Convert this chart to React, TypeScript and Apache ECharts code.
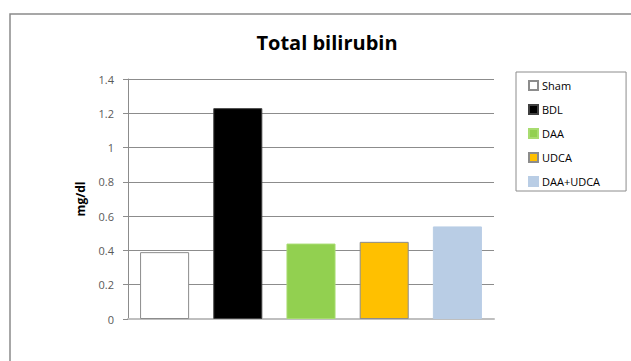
import React, { useEffect, useRef } from "react";
import * as echarts from "echarts";

const categories = ["Sham", "BDL", "DAA", "UDCA", "DAA+UDCA"];
const values = [0.39, 1.23, 0.44, 0.45, 0.54];
const fillColors = ["#FFFFFF", "#000000", "#92D050", "#FFC000", "#B9CDE5"];
const borderColors = ["#8C8C8C", "#404040", "#A8DC70", "#8C8C8C", "#B9CDE5"];
const yTicks = { min: 0, max: 1.4, interval: 0.2 };

export default function App() {
  const ref = useRef<HTMLDivElement>(null);
  useEffect(() => {
    document.body.style.margin = "0";
    const chart = echarts.init(ref.current!, null, { renderer: "svg" });
    const font = "'Open Sans', 'Liberation Sans', sans-serif";
    const series = categories.map((name, i) => ({
      name,
      type: "bar" as const,
      stack: "all",
      barWidth: "67%",
      data: categories.map((_, j) => (j === i ? values[i] : "-")),
      itemStyle: {
        color: fillColors[i],
        borderColor: borderColors[i],
        borderWidth: 1,
      },
    }));
    chart.setOption({
      animation: false,
      backgroundColor: "#FFFFFF",
      title: {
        text: "Total bilirubin",
        left: 322,
        top: 27,
        textAlign: "center",
        textStyle: { fontFamily: font, fontSize: 20, fontWeight: "bold", color: "#000" },
      },
      graphic: [
        {
          type: "rect",
          shape: { x: 10, y: 14, width: 700, height: 400 },
          style: { fill: "none", stroke: "#8A8A8A", lineWidth: 1.5 },
          z: -1,
        },
      ],
      legend: {
        orient: "vertical",
        left: 516,
        top: 72,
        width: 110,
        height: 120,
        padding: [8, 26, 4, 12],
        borderColor: "#8C8C8C",
        borderWidth: 1,
        itemWidth: 9,
        itemHeight: 9,
        itemGap: 13,
        icon: "rect",
        textStyle: { fontFamily: font, fontSize: 11, color: "#000", padding: [0, 0, 0, -1] },
        data: categories,
      },
      grid: { left: 128, right: 137, top: 79, bottom: 42, containLabel: false },
      xAxis: {
        type: "category",
        data: categories,
        axisLabel: { show: false },
        axisTick: { show: false },
        axisLine: { lineStyle: { color: "#BFBFBF", width: 2 } },
      },
      yAxis: {
        type: "value",
        min: yTicks.min,
        max: yTicks.max,
        interval: yTicks.interval,
        name: "mg/dl",
        nameLocation: "middle",
        nameRotate: 90,
        nameGap: 42,
        nameTextStyle: { fontFamily: font, fontSize: 12, fontWeight: "bold", color: "#000" },
        axisLine: { show: true, lineStyle: { color: "#8C8C8C", width: 1 } },
        axisTick: { show: true, length: 5, lineStyle: { color: "#8C8C8C" } },
        axisLabel: { margin: 14, fontFamily: font, fontSize: 11, color: "#595959" },
        splitLine: { lineStyle: { color: "#8C8C8C", width: 1 } },
      },
      series,
    });
    return () => chart.dispose();
  }, []);
  return <div ref={ref} style={{ width: 631, height: 361 }} />;
}
